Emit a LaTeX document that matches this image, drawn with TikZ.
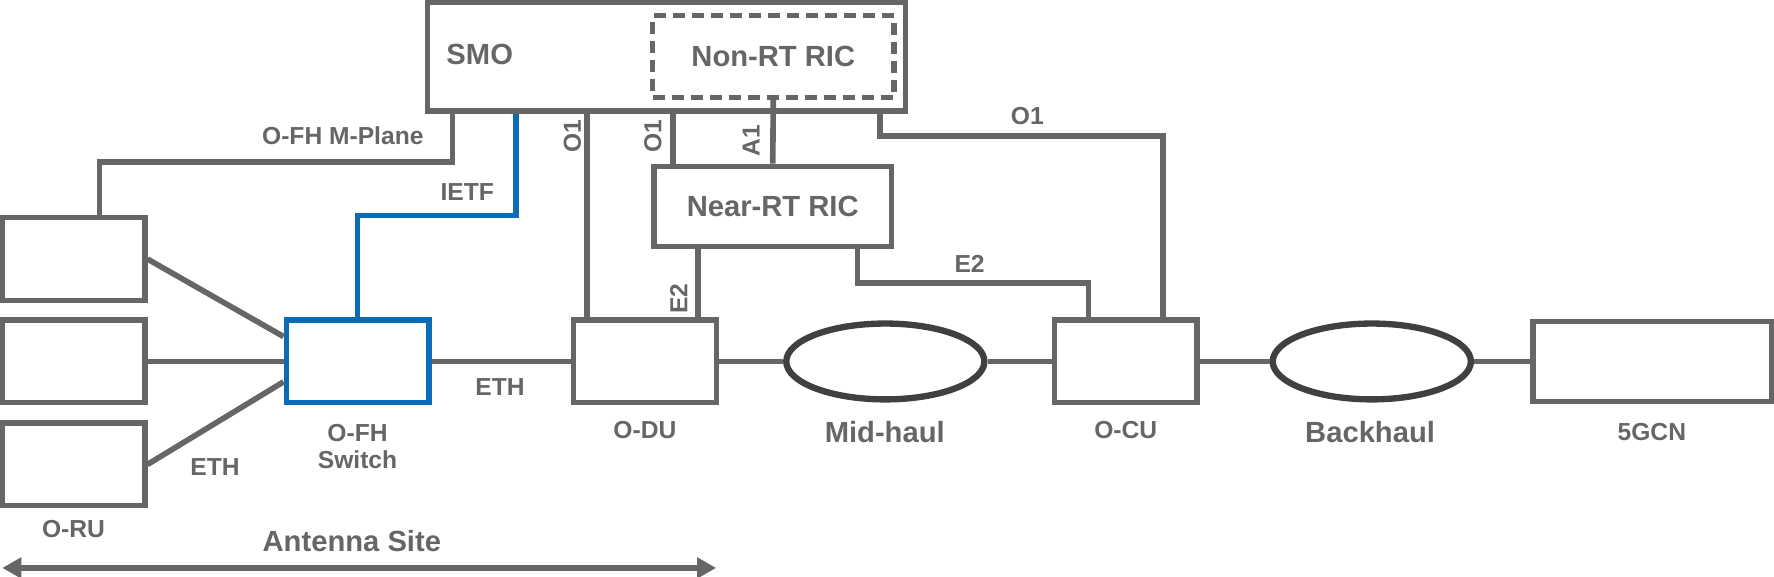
\documentclass[tikz,border=0pt]{standalone}
\usepackage{fontspec}
\setmainfont{Liberation Sans}
\usetikzlibrary{arrows.meta,positioning,calc,shapes.geometric}
\definecolor{oranGray}{RGB}{102,102,102}
\definecolor{oranDark}{RGB}{64,64,64}
\definecolor{oranBlue}{RGB}{11,108,181}

\begin{document}
\begin{tikzpicture}[
        x=0.011314cm, y=-0.011314cm,
        box/.style={draw=oranGray, line width=1.5pt, minimum width=1.426cm, minimum height=0.826cm,
            inner sep=0pt, text=oranGray, font=\fontsize{8.3}{10}\selectfont\bfseries},
        cloud/.style={ellipse, draw=oranDark, line width=1.8pt, minimum width=1.98cm, minimum height=0.758cm, inner sep=0pt},
        link/.style={draw=oranGray, line width=1.6pt},
        lbl/.style={text=oranGray, font=\fontsize{7}{7.6}\selectfont\bfseries, inner sep=0pt, align=center},
        biglbl/.style={text=oranGray, font=\fontsize{8.3}{10}\selectfont\bfseries, inner sep=0pt},
    ]
        \useasboundingbox (0,0) rectangle (1568,510);

        % SMO and the two RICs
        \node[box, minimum width=4.774cm, minimum height=1.086cm] (smo) at (589,50) {};
        \node[biglbl] (smolbl) at (424,48) {SMO};
        \node[box, dash pattern=on 3.4pt off 2pt, minimum width=2.41cm, minimum height=0.815cm] (nonrt) at (683.5,50) {Non-RT RIC};
        \node[box, minimum width=2.376cm, minimum height=0.803cm] (nrt) at (683,182.5) {Near-RT RIC};

        % Radio units, switch, DU, CU, core
        \foreach \y/\name in {229/oru1, 319.5/oru2, 410.5/oru3} {
            \node[box] (\name) at (65,\y) {};
        }
        \node[box, draw=oranBlue] (sw) at (316,319.5) {};
        \node[box] (odu) at (570,319.5) {};
        \node[cloud] (mid) at (782.5,319.5) {};
        \node[box] (ocu) at (995,319.5) {};
        \node[cloud] (back) at (1212.5,319.5) {};
        \node[box, minimum width=2.387cm, minimum height=0.803cm] (cn) at (1460.5,319.5) {};

        % Fronthaul, midhaul, backhaul
        \draw[link] (oru1.east) -- ($(sw.west)+(0,-22)$);
        \draw[link] (oru2.east) -- (sw.west);
        \draw[link] (oru3.east) -- ($(sw.west)+(0,18)$);
        \draw[link] (sw.east) -- (odu.west);
        \draw[link] (odu.east) -- (mid.west);
        \draw[link] (mid.east) -- (ocu.west);
        \draw[link] (ocu.east) -- (back.west);
        \draw[link] (back.east) -- (cn.west);

        % Management and control interfaces
        \draw[link] (oru1.north) ++(23,0) -- ++(0,-47) -| ($(smo.south)+(-189,0)$);
        \draw[link, draw=oranBlue] (sw.north) -- ++(0,-90) -| ($(smo.south)+(-133,0)$);
        \draw[link] (odu.north) ++(-51,0) coordinate (o1a) -- (o1a |- smo.south);
        \draw[link] (nrt.north) ++(-88,0) coordinate (o1b) -- (o1b |- smo.south);
        \draw[link] (nonrt.south) -- (nrt.north);
        \draw[link] (smo.south) ++(189,0) -- ++(0,20) -| ($(ocu.north)+(33,0)$);
        \draw[link] (odu.north) ++(47,0) coordinate (e2a) -- (e2a |- nrt.south);
        \draw[link] (nrt.south) ++(75,0) -- ++(0,30) -| ($(ocu.north)+(-33,0)$);

        % Interface labels
        \node[lbl] (mplane) at (303,120) {O-FH M-Plane};
        \node[lbl] (ietf) at (413,170) {IETF};
        \node[lbl, rotate=90] (o1du) at (506,120) {O1};
        \node[lbl, rotate=90] (o1ric) at (577,120) {O1};
        \node[lbl, rotate=90] (a1) at (664,124) {A1};
        \node[lbl] (o1cu) at (908,103) {O1};
        \node[lbl, rotate=90] (e2du) at (600,264) {E2};
        \node[lbl] (e2cu) at (857,233) {E2};
        \node[lbl] (ethru) at (190,413) {ETH};
        \node[lbl] (ethsw) at (442,342) {ETH};

        % Element labels
        \node[lbl] (orulbl) at (65,468) {O-RU};
        \node[lbl] (swlbl) at (316,394.5) {O-FH\\Switch};
        \node[lbl] (dulbl) at (570,380) {O-DU};
        \node[biglbl] (midlbl) at (782,382) {Mid-haul};
        \node[lbl] (culbl) at (995,380) {O-CU};
        \node[biglbl] (backlbl) at (1211,382) {Backhaul};
        \node[lbl] (cnlbl) at (1460,382) {5GCN};

        % Antenna site span
        \coordinate (asl) at (2,502);
        \coordinate (asr) at (633,502);
        \draw[link, line width=1.9pt, {Triangle[length=0.19cm,width=0.2cm]}-{Triangle[length=0.19cm,width=0.2cm]}] (asl) -- (asr);
        \node[biglbl] (aslbl) at (311,478) {Antenna Site};
    \end{tikzpicture}
\end{document}
